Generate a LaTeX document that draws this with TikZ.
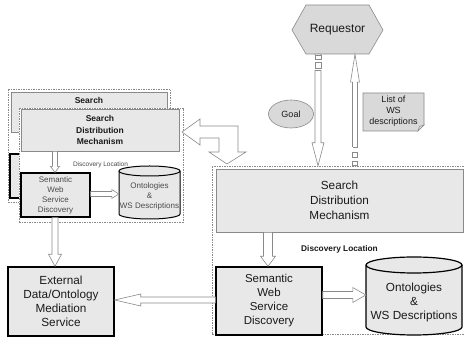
\documentclass[tikz,border=0pt]{standalone}
\usepackage{fontspec}
\setmainfont{Liberation Sans}
\usetikzlibrary{calc,shapes.geometric}
\definecolor{boxfill}{HTML}{E8E8E8}
\definecolor{shapefill}{HTML}{D9D9D9}
\definecolor{lgray}{HTML}{8A8A8A}
\definecolor{txt}{HTML}{1A1A1A}
\definecolor{softtxt}{HTML}{4A4A4A}

\begin{document}
\begin{tikzpicture}[x=1pt,y=-1pt,
  frame/.style={draw=lgray, dash pattern=on 1.5pt off 1pt, line width=0.5pt, fill=white, inner sep=0pt},
  searchbox/.style={draw=lgray, line width=0.7pt, fill=boxfill, align=center, inner sep=0pt, text=txt},
  procbox/.style={draw=black, line width=1.4pt, fill=boxfill, align=center, inner sep=0pt, text=txt},
  lbl/.style={align=center, inner sep=0pt, text=txt},
  cylbody/.style={draw=black, line width=1.2pt, fill=boxfill},
  pale/.style={draw=lgray, line width=0.6pt, fill=shapefill},
  arrowline/.style={draw=lgray, line width=0.6pt, fill=white},
  % hollow block arrow: shaft half width, head half width, head length
  hollow/.style n args={3}{arrowline,
    to path={let \p1=(\tikztostart), \p2=(\tikztotarget),
      \n1={atan2(\y2-\y1,\x2-\x1)}, \n2={veclen(\x2-\x1,\y2-\y1)} in
      {[shift={(\p1)}, rotate=\n1]
       (0pt,#1pt) -- ({\n2-#3pt},#1pt) -- ({\n2-#3pt},#2pt) -- ({\n2*1pt},0pt)
       -- ({\n2-#3pt},-#2pt) -- ({\n2-#3pt},-#1pt) -- (0pt,-#1pt) -- cycle}}},
]
\useasboundingbox (0,0) rectangle (464,347);
\begin{scope}
\clip (0,0) rectangle (464,347);

% ---------- remote discovery location (stacked copies) ----------
\node[frame, minimum width=162, minimum height=113] (backframe) at (89,145.5) {};
\node[searchbox, minimum width=156, minimum height=40] (backsearch) at (89,112) {};
\node[lbl, font=\fontsize{8.5}{11.5}\selectfont\bfseries] (backsearchlbl)
      at ($(backsearch.north)+(0,8.5)$) {Search};
\node[procbox, minimum width=50, minimum height=44] (backswsd) at (35,176) {};

\node[frame, minimum width=164, minimum height=114] (frontframe) at (101,165) {};
\node[searchbox, minimum width=158, minimum height=42,
      font=\fontsize{8.5}{11.5}\selectfont\bfseries] (frontsearch) at (100,130)
      {Search\\Distribution\\Mechanism};
\node[lbl, text=softtxt, font=\fontsize{6.5}{8}\selectfont] (dl1) at (100.5,165) {Discovery Location};
\node[procbox, line width=1.2pt, minimum width=69, minimum height=44, text=softtxt,
      font=\fontsize{8}{10}\selectfont] (swsd1) at (55.5,195)
      {Semantic\\Web\\Service\\Discovery};

% small repository cylinder
\path[cylbody, line width=1pt] (119,171) -- (119,214)
  arc[start angle=180, end angle=360, x radius=30.5pt, y radius=5pt] -- (180,171)
  arc[start angle=0, end angle=180, x radius=30.5pt, y radius=5pt] -- cycle;
\draw[black, line width=1pt] (119,171) arc[start angle=180, end angle=360, x radius=30.5pt, y radius=5pt];
\node[lbl, text=softtxt, minimum width=61, minimum height=53,
      font=\fontsize{8}{10}\selectfont] (cyl1) at (149.5,196) {Ontologies\\\&\\WS Descriptions};

\coordinate (a1s) at (frontsearch.south -| 55,0);
\coordinate (a1e) at (swsd1.north -| 55,0);
\draw[hollow={2.5}{4.5}{6}] (a1s) to (a1e);
\coordinate (a2s) at (swsd1.east |- 0,194);
\coordinate (a2e) at (cyl1.west |- 0,194);
\draw[hollow={2.5}{4.5}{7}] (a2s) to (a2e);

% ---------- mediation service ----------
\node[procbox, minimum width=106, minimum height=69,
      font=\fontsize{11.75}{14}\selectfont] (ext) at (61,301.5)
      {External\\Data/Ontology\\Mediation\\Service};
\coordinate (a3s) at (swsd1.south -| 55,0);
\coordinate (a3e) at (ext.north -| 55,0);
\draw[hollow={3}{6.5}{12}] (a3s) to (a3e);

% ---------- local discovery location ----------
\node[frame, minimum width=263, minimum height=168] (bigframe) at (343.5,250) {};
\node[searchbox, minimum width=247, minimum height=63,
      font=\fontsize{11.75}{15}\selectfont] (bigsearch) at (339.5,200.5)
      {Search\\Distribution\\Mechanism};
\node[lbl, font=\fontsize{8.3}{10}\selectfont\bfseries] (dl2) at (339.5,249) {Discovery Location};
\node[procbox, minimum width=106, minimum height=68,
      font=\fontsize{11.5}{14}\selectfont] (swsd2) at (269,301)
      {Semantic\\Web\\Service\\Discovery};

% large repository cylinder
\path[cylbody] (366,265) -- (366,327)
  arc[start angle=180, end angle=360, x radius=48pt, y radius=8pt] -- (462,265)
  arc[start angle=0, end angle=180, x radius=48pt, y radius=8pt] -- cycle;
\draw[black, line width=1.2pt] (366,265) arc[start angle=180, end angle=360, x radius=48pt, y radius=8pt];
\node[lbl, minimum width=96, minimum height=78,
      font=\fontsize{11.75}{14}\selectfont] (cyl2) at (414,302) {Ontologies\\\&\\WS Descriptions};

\coordinate (a4s) at (bigsearch.south -| 268,0);
\coordinate (a4e) at (swsd2.north -| 268,0);
\draw[hollow={4.5}{7.5}{10}] (a4s) to (a4e);
\coordinate (a5s) at (swsd2.east |- 0,295);
\coordinate (a5e) at (cyl2.west |- 0,295);
\draw[hollow={3.5}{7.5}{13}] (a5s) to (a5e);
\coordinate (a6s) at (swsd2.west |- 0,300);
\coordinate (a6e) at (ext.east |- 0,300);
\draw[hollow={3}{6}{26}] (a6s) to (a6e);

% bent arrow linking the two discovery locations
\draw[arrowline] (182,132) -- (200,119) -- (200,126) -- (238,126) -- (238,152)
  -- (246,152) -- (227,164) -- (209,152) -- (219,152) -- (219,138) -- (200,138)
  -- (200,145) -- cycle;

% ---------- requestor ----------
\draw[pale] (292,30) -- (306,5) -- (369,5) -- (383,30) -- (369,54) -- (306,54) -- cycle;
\node[lbl, minimum width=91, minimum height=49,
      font=\fontsize{12}{14}\selectfont] (req) at (337.5,29.5) {Requestor};

% goal going down
\coordinate (gs) at (req.south -| 318,0);
\coordinate (ge) at (bigframe.north -| 318,0);
\draw[hollow={3}{6}{23}] (gs) to (ge);
\fill[white] (314,54.7) rectangle (322,70.5);
\draw[lgray, line width=0.6pt, fill=white] (315,55) rectangle (321,59);
\draw[lgray, line width=0.6pt, fill=white] (315,62) rectangle (321,68);
\draw[lgray, line width=0.6pt] (315,70.5) -- (321,70.5);

% results going up
\coordinate (ls) at (bigframe.north -| 355,0);
\coordinate (le) at (req.south -| 355,0);
\draw[hollow={2.5}{4.5}{28}] (ls) to (le);
\fill[white] (351,147.5) rectangle (359,165.6);
\draw[lgray, line width=0.6pt] (352.5,147.5) -- (357.5,147.5);
\draw[lgray, line width=0.6pt, fill=white] (352.5,152) rectangle (357.5,157);
\draw[lgray, line width=0.6pt, fill=white] (352.5,161) rectangle (357.5,165.6);

% goal label
\node[pale, ellipse, minimum width=45, minimum height=28, inner sep=0pt, text=txt,
      font=\fontsize{9}{11}\selectfont] (goal) at (291,114) {Goal};

% note with folded corner
\draw[pale] (363,93) -- (424,93) -- (424,125) -- (418,131) -- (363,131) -- cycle;
\draw[lgray, line width=0.6pt, fill=boxfill] (424,125) -- (419.5,126.5) -- (418,131) -- cycle;
\node[lbl, minimum width=61, minimum height=38,
      font=\fontsize{9}{11}\selectfont] (note) at (393.5,111.5) {List of\\WS\\descriptions};
\end{scope}
\end{tikzpicture}
\end{document}
